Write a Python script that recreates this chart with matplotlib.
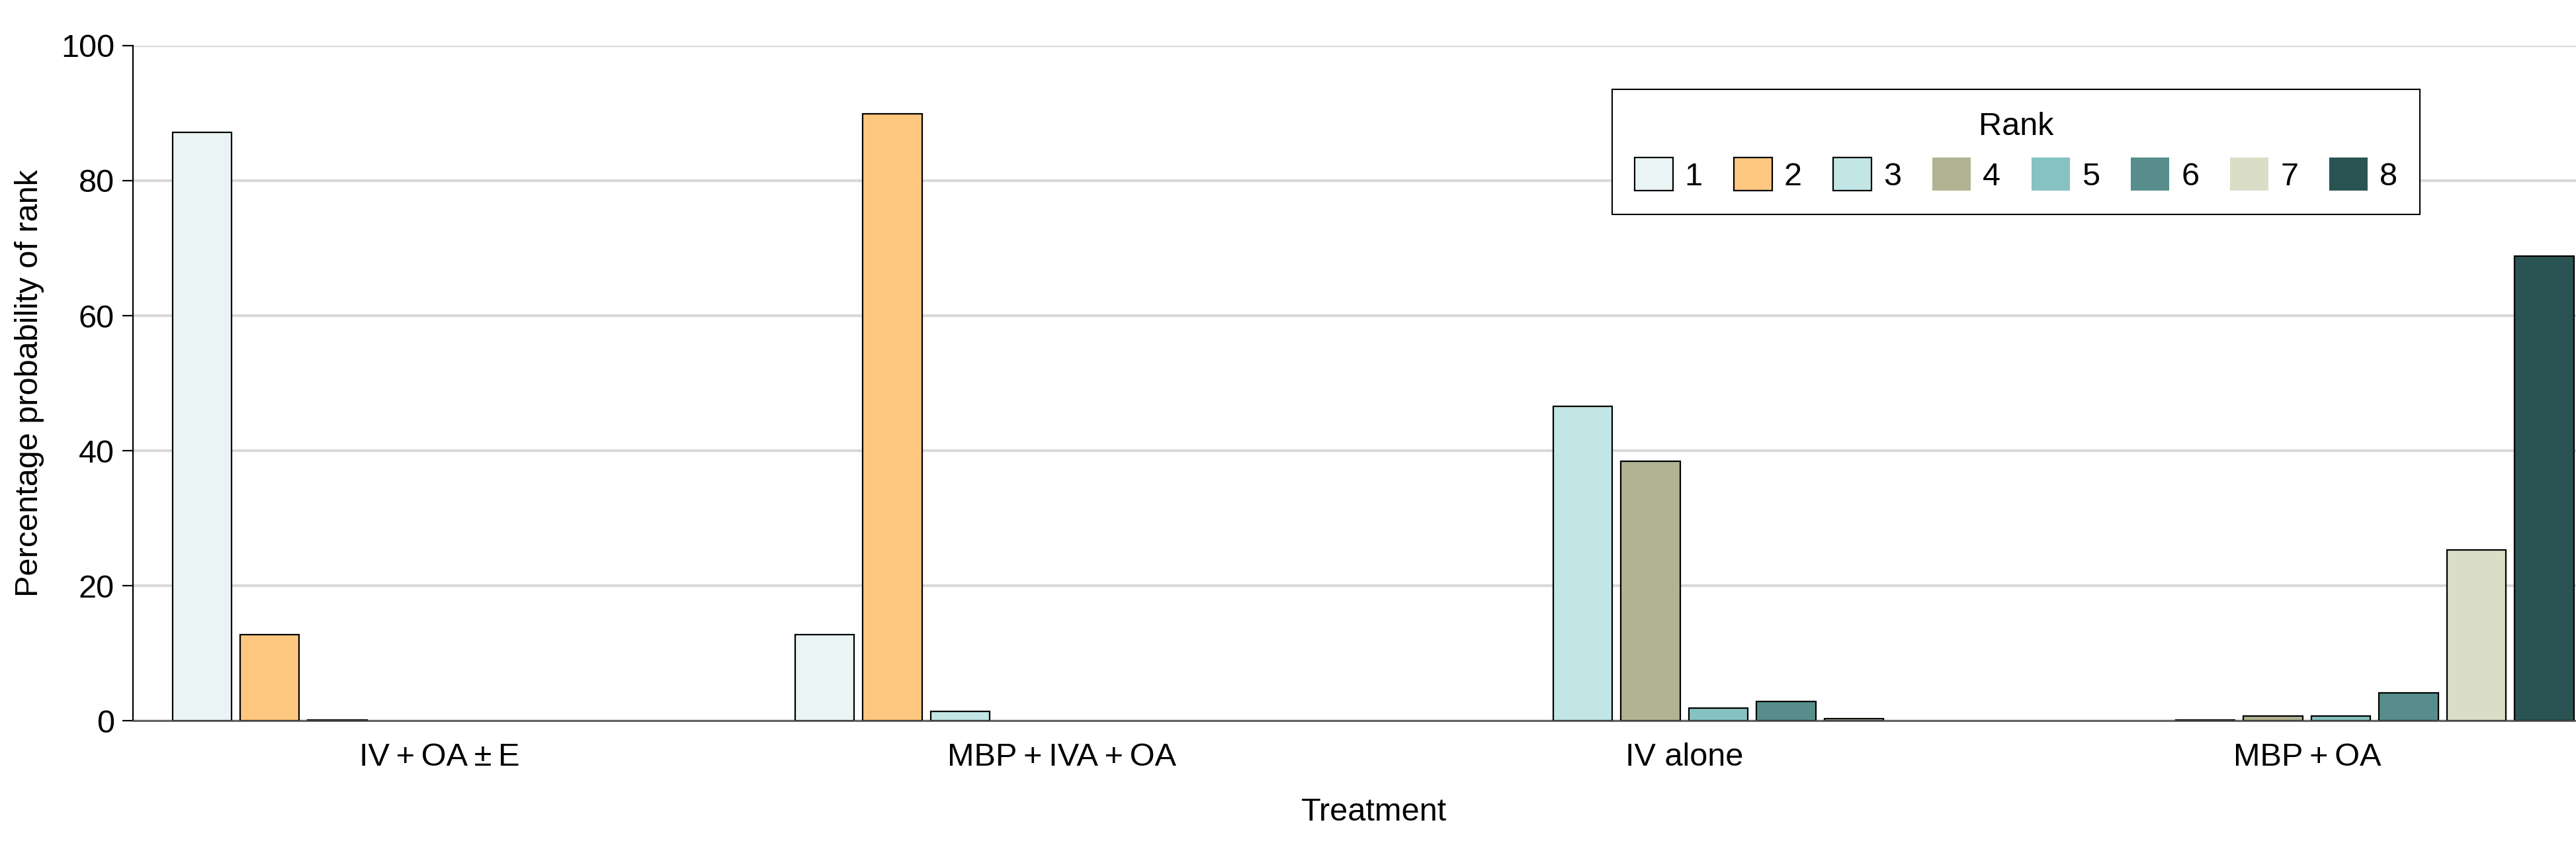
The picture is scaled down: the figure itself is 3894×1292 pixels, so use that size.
import numpy as np
import matplotlib.pyplot as plt

plt.rcParams['font.family'] = ['Liberation Sans', 'DejaVu Sans']

# data
treatments = ['IV\u2009+\u2009OA\u2009±\u2009E', 'MBP\u2009+\u2009IVA\u2009+\u2009OA',
              'IV alone', 'MBP\u2009+\u2009OA']
ranks = ['1', '2', '3', '4', '5', '6', '7', '8']
colors = ['#eaf4f4', '#fec780', '#c1e6e5', '#b2b393',
          '#86c2c1', '#578d8b', '#dbdec6', '#2a5353']

# percentage probability of each rank, one list per rank (values per treatment)
rank1 = [87.2, 12.7, 0.0, 0.0]
rank2 = [12.7, 89.9, 0.0, 0.0]
rank3 = [0.1, 1.4, 46.6, 0.1]
rank4 = [0.0, 0.0, 38.4, 0.7]
rank5 = [0.0, 0.0, 1.9, 0.7]
rank6 = [0.0, 0.0, 2.8, 4.1]
rank7 = [0.0, 0.0, 0.3, 25.3]
rank8 = [0.0, 0.0, 0.0, 68.8]
values = [rank1, rank2, rank3, rank4, rank5, rank6, rank7, rank8]

fig = plt.figure(figsize=(38.94, 12.92), dpi=100)
ax = fig.add_axes([0.0516, 0.1571, 0.9484, 0.7895])

fs = 35
pitch = 0.1089
width = 0.0951
x = np.arange(len(treatments))

for i, (vals, col, lab) in enumerate(zip(values, colors, ranks)):
    vals = np.array(vals)
    lws = np.where(vals > 0, 1.6, 0.0)
    ax.bar(x + (i - 3.5) * pitch, vals, width, color=col, edgecolor='black',
           linewidth=lws, label=lab, zorder=3)

ax.set_xlim(-0.492, 3.432)
ax.set_ylim(0, 100)
ax.set_yticks(np.arange(0, 101, 20))
ax.set_xticks(x)
ax.set_xticklabels(treatments)

ax.yaxis.grid(True, color='#d9d9d9', linewidth=3, zorder=0)
ax.set_axisbelow(True)

for s in ['top', 'right']:
    ax.spines[s].set_visible(False)
ax.spines['left'].set_linewidth(1.6)
ax.spines['left'].set_color('black')
ax.spines['bottom'].set_linewidth(1.8)
ax.spines['bottom'].set_color('#4d4d4d')
ax.spines['bottom'].set_zorder(4)

ax.tick_params(axis='y', labelsize=fs, length=11.5, width=1.6, pad=8.6, color='black')
ax.tick_params(axis='x', labelsize=fs, length=0, pad=24)

ax.set_xlabel('Treatment', fontsize=fs)
ax.xaxis.set_label_coords(0.508, -0.1137)
ax.set_ylabel('Percentage probability of rank', fontsize=fs)
ax.yaxis.set_label_coords(-0.0363, 0.5)

leg = ax.legend(title='Rank', ncol=8, fontsize=fs, title_fontsize=fs,
                loc='upper center', bbox_to_anchor=(0.7708, 0.9353),
                borderaxespad=0, frameon=True, fancybox=False,
                edgecolor='black', framealpha=1,
                handlelength=1.19, handleheight=1.21, handletextpad=0.37,
                columnspacing=0.97, borderpad=0.7, labelspacing=0.5)
leg.get_frame().set_linewidth(1.5)
leg.set_zorder(5)

fig.savefig('out.png', dpi=100)
